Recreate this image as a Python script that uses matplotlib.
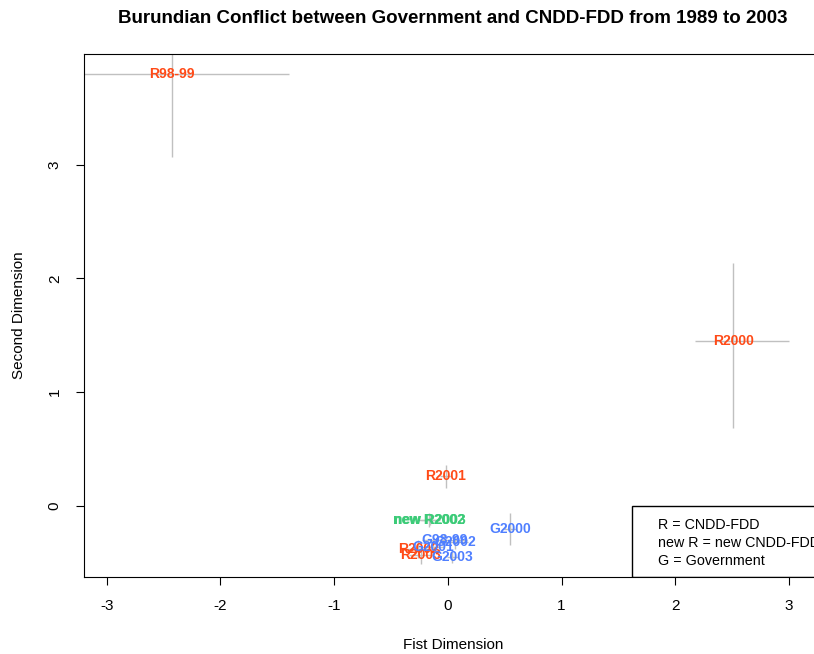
import matplotlib.pyplot as plt
from matplotlib.patches import Rectangle

plt.rcParams['font.family'] = ['Liberation Sans', 'DejaVu Sans']
plt.rcParams['axes.unicode_minus'] = False

# point labels, positions and interval ends
labels = ["R98-99", "R2000", "R2001", "new R2003", "new R2002",
          "R2002", "R2003", "G98-99", "G2002", "G2001", "G2003", "G2000"]
dim1 = [-2.43, 2.51, -0.02, -0.16, -0.165,
        -0.26, -0.24, -0.03, 0.06, -0.13, 0.04, 0.546]
dim2 = [3.80, 1.45, 0.26, -0.12, -0.125,
        -0.38, -0.43, -0.30, -0.32, -0.36, -0.45, -0.20]
dim1_lo = [-3.46, 2.17, -0.07, -0.24, -0.265,
           -0.41, -0.34, -0.23, -0.06, -0.23, -0.01, 0.496]
dim1_hi = [-1.40, 3.00, 0.03, -0.08, -0.065,
           -0.11, -0.14, 0.17, 0.18, -0.03, 0.09, 0.596]
dim2_lo = [3.065, 0.685, 0.16, -0.17, -0.185,
           -0.46, -0.51, -0.35, -0.38, -0.44, -0.50, -0.34]
dim2_hi = [4.55, 2.135, 0.36, -0.07, -0.065,
           -0.30, -0.35, -0.25, -0.26, -0.28, -0.40, -0.06]
groups = ["R", "R", "R", "newR", "newR",
          "R", "R", "G", "G", "G", "G", "G"]

legend_lines = ["R = CNDD-FDD", "new R = new CNDD-FDD", "G = Government"]

colors = {"R": "#FF4A17", "newR": "#3CCB78", "G": "#4F7FFF"}

fig = plt.figure(figsize=(8.14, 6.54), dpi=100)
ax = fig.add_axes([0.1032, 0.1177, 0.9066, 0.8003])

ax.set_xlim(-3.20, 3.29)
ax.set_ylim(-0.624, 3.975)

for x, y, x0, x1, y0, y1 in zip(dim1, dim2, dim1_lo, dim1_hi, dim2_lo, dim2_hi):
    ax.hlines(y, x0, x1, color="#C0C0C0", lw=1, zorder=1)
    ax.vlines(x, y0, y1, color="#C0C0C0", lw=1, zorder=1)

for lab, x, y, g in zip(labels, dim1, dim2, groups):
    ax.text(x, y, lab, ha="center", va="center", fontsize=10,
            fontweight="bold", color=colors[g], zorder=2)

# legend box (runs off the right edge like the original)
ax.add_patch(Rectangle((1.62, -0.624), 2.0, 0.624, fill=False,
                       edgecolor="black", lw=1, zorder=3))
for i, line in enumerate(legend_lines):
    ax.text(1.85, -0.17 - i * 0.155, line, ha="left", va="center",
            fontsize=10.3, zorder=3)

ax.set_xticks([-3, -2, -1, 0, 1, 2, 3])
ax.set_yticks([0, 1, 2, 3])
ax.tick_params(direction="out", length=6, labelsize=11, pad=10)
for t in ax.get_yticklabels():
    t.set_rotation(90)
    t.set_va("center")

ax.set_xlabel("Fist Dimension", fontsize=11, labelpad=18)
ax.set_ylabel("Second Dimension", fontsize=11, labelpad=16)
ax.set_title("Burundian Conflict between Government and CNDD-FDD from 1989 to 2003",
             fontsize=13.5, fontweight="bold", pad=22)

fig.savefig("out.png", dpi=100)
